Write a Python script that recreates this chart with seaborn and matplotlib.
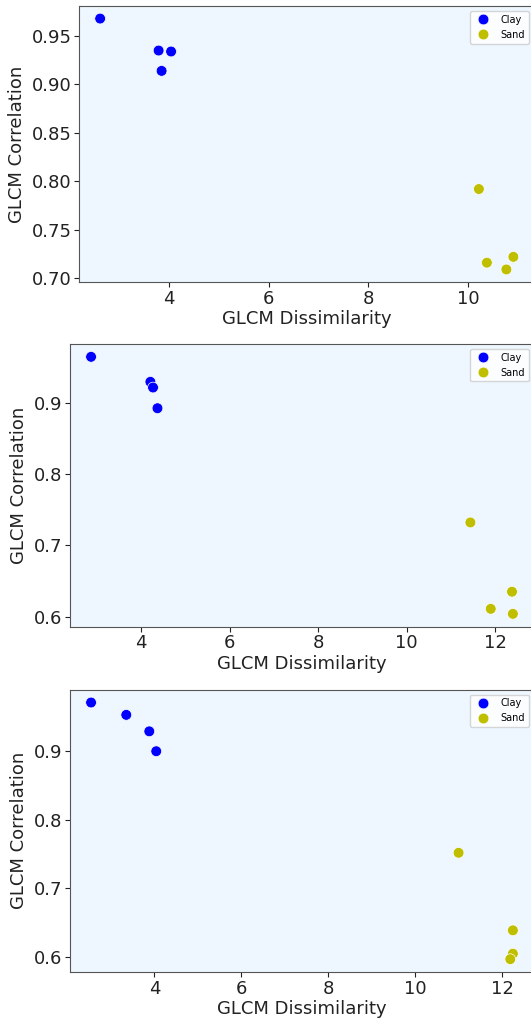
import matplotlib
matplotlib.use("Agg")
import matplotlib.pyplot as plt
import seaborn as sns
import pandas as pd

# Panel 1
p1_clay_x = [2.63, 3.80, 4.05, 3.86]
p1_clay_y = [0.968, 0.935, 0.934, 0.914]
p1_sand_x = [10.21, 10.37, 10.76, 10.90]
p1_sand_y = [0.792, 0.716, 0.709, 0.722]

# Panel 2
p2_clay_x = [2.87, 4.21, 4.27, 4.37]
p2_clay_y = [0.964, 0.929, 0.921, 0.892]
p2_sand_x = [11.44, 12.38, 11.90, 12.40]
p2_sand_y = [0.732, 0.635, 0.611, 0.604]

# Panel 3
p3_clay_x = [2.54, 3.35, 3.88, 4.04]
p3_clay_y = [0.971, 0.953, 0.929, 0.900]
p3_sand_x = [11.00, 12.25, 12.25, 12.19]
p3_sand_y = [0.752, 0.639, 0.605, 0.597]

classes = ["Clay", "Sand"]
palette = {"Clay": "b", "Sand": "y"}

panels = [
    (p1_clay_x, p1_clay_y, p1_sand_x, p1_sand_y),
    (p2_clay_x, p2_clay_y, p2_sand_x, p2_sand_y),
    (p3_clay_x, p3_clay_y, p3_sand_x, p3_sand_y),
]

plt.rcParams['font.family'] = ['DejaVu Sans']

fig = plt.figure(figsize=(5.31, 10.21), dpi=100)
positions = [
    [0.1497, 0.7238, 0.856, 0.2703],
    [0.1318, 0.3862, 0.8738, 0.2769],
    [0.1318, 0.0480, 0.8738, 0.2765],
]

for pos, (cx, cy, sx, sy) in zip(positions, panels):
    ax = fig.add_axes(pos)
    df = pd.DataFrame({
        "x": cx + sx,
        "y": cy + sy,
        "cls": [classes[0]] * len(cx) + [classes[1]] * len(sx),
    })
    sns.scatterplot(data=df, x="x", y="y", hue="cls", palette=palette,
                    s=60, edgecolor="white", linewidth=0.5, ax=ax)
    ax.set_facecolor("#eef6ff")
    for sp in ax.spines.values():
        sp.set_color("#555555")
    ax.tick_params(labelsize=13, colors="#222222", length=3.5, pad=2)
    ax.set_xlabel("GLCM Dissimilarity", fontsize=13, color="#222222", labelpad=2)
    ax.set_ylabel("GLCM Correlation", fontsize=13, color="#222222", labelpad=4)
    ax.legend(loc="upper right", fontsize=7, frameon=True, title=None)

fig.savefig("out.png", dpi=100)
